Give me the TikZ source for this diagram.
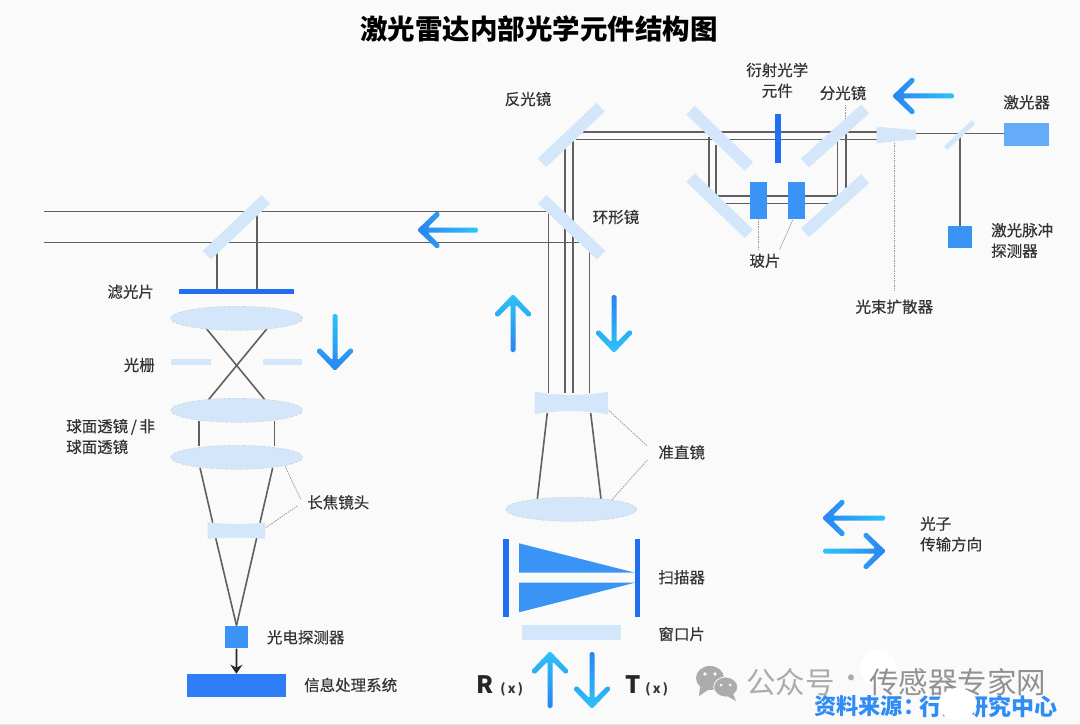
\documentclass[tikz,border=0pt]{standalone}
\usepackage{fontspec}
\setmainfont{Noto Sans CJK SC}
\newfontface\labelface[FakeBold=0.35]{Noto Sans CJK SC}
\usetikzlibrary{positioning, arrows.meta, shapes.geometric, backgrounds}
\definecolor{pagebg}{HTML}{FAFAFA}
\definecolor{glassc}{HTML}{D3E6FA}
\definecolor{bluec}{HTML}{3A94F5}
\definecolor{deepc}{HTML}{1F6FF0}
\definecolor{procc}{HTML}{2F7DF6}
\definecolor{laserc}{HTML}{64ACF7}
\definecolor{beamc}{HTML}{606060}
\definecolor{leadc}{HTML}{9A9A9A}
\definecolor{labelc}{HTML}{333333}
\definecolor{cyanc}{HTML}{2CC4F8}
\definecolor{arrowc}{HTML}{2A84F0}
\definecolor{sourcec}{HTML}{2F8CF5}
\definecolor{markc}{HTML}{ABABAB}
\tikzset{
  mirror/.style={fill=glassc, minimum width=81pt, minimum height=12pt, inner sep=0pt},
  lens/.style={ellipse, fill=glassc, draw=leadc!60, densely dashed, line width=0.3pt, minimum width=132pt, minimum height=24pt, inner sep=0pt},
  block/.style={fill=bluec, inner sep=0pt},
  bar/.style={fill=deepc, inner sep=0pt},
  beam/.style={draw=beamc, line width=1.6pt},
  lead/.style={draw=leadc, line width=0.8pt, dash pattern=on 1.5pt off 1pt},
  label/.style={font=\fontsize{15.5}{20.7}\selectfont\labelface, text=labelc, inner sep=0pt, align=left}
}
\newcommand{\flowarrow}[6]{%
  \begin{scope}[shift={(#1,#2)}, rotate=#3]
    \pgfmathsetmacro{\shadeangle}{#3-90}
    \shade[bottom color=#5, top color=#6, shading angle=\shadeangle, rounded corners=1.6pt]
      (1,0) -- (-19,19) -- (-22.5,15.5) -- (-9.5,2.5) -- (-#4,2.5) -- (-#4,-2.5)
      -- (-9.5,-2.5) -- (-22.5,-15.5) -- (-19,-19) -- cycle;
  \end{scope}}

\begin{document}
\begin{tikzpicture}[x=1pt, y=-1pt]
  \useasboundingbox (0,0) rectangle (1080,725);

  \node[font=\fontsize{27.5}{30}\selectfont\bfseries, text=black, inner sep=0pt] (title) at (539,29) {激光雷达内部光学元件结构图};

  % transmit side
  \node[block, fill=laserc, minimum width=45pt, minimum height=23pt] (laser) at (1026.8,134.8) {};
  \node[block, minimum width=23.7pt, minimum height=22.3pt] (pulse) at (960.2,237.2) {};
  \node[mirror, minimum width=38pt, minimum height=5pt, rotate=43] (split) at (959.7,135) {};
  \fill[glassc] (876.7,126.7) -- (916,130) -- (916,139.3) -- (876.7,143.3) -- cycle;
  \coordinate (expand) at (916,133.4);
  \node[mirror, rotate=-44] (m1) at (719.7,138.3) {};
  \node[mirror, rotate=42] (m2) at (835,136) {};
  \node[mirror, rotate=-44] (m3) at (719.7,205.7) {};
  \node[mirror, rotate=42] (m4) at (835,205.7) {};
  \node[bar, minimum width=6pt, minimum height=48pt] (doe) at (777.7,138.5) {};
  \node[block, minimum width=17.3pt, minimum height=36.7pt] (plate1) at (758.3,200.3) {};
  \node[block, minimum width=17pt, minimum height=36.7pt] (plate2) at (796.8,200.3) {};

  % scan side
  \node[mirror, rotate=43.5] (fold) at (571.3,135) {};
  \node[mirror, rotate=-43.5] (ring) at (571.7,227.3) {};
  \fill[glassc] (534.7,391.7) .. controls (558,396) and (585,396) .. (608,391.7)
    -- (608,414.3) .. controls (585,410) and (558,410) .. (534.7,414.3) -- cycle;
  \node[lens, minimum width=131pt] (colm) at (571.2,509.3) {};
  \node[bar, minimum width=5.7pt, minimum height=78pt] (scanl) at (505.8,577.7) {};
  \node[bar, minimum width=5.7pt, minimum height=78pt] (scanr) at (637.5,577.7) {};
  \fill[bluec] (519,543.3) -- (519,572.7) -- (635,572.7) -- cycle;
  \fill[bluec] (519,582.7) -- (519,612.3) -- (635,582.7) -- cycle;
  \node[fill=glassc, minimum width=99pt, minimum height=15pt, inner sep=0pt] (window) at (571.2,632.5) {};

  % receive side
  \node[mirror, rotate=43.5] (pick) at (236.3,227.3) {};
  \node[bar, minimum width=115pt, minimum height=5pt] (filter) at (236.5,291.2) {};
  \node[lens] (l1) at (236.7,318.3) {};
  \node[fill=glassc, minimum width=40pt, minimum height=6pt, inner sep=0pt] (gl) at (190.7,362.3) {};
  \node[fill=glassc, minimum width=39pt, minimum height=6pt, inner sep=0pt] (gr) at (282.8,362.3) {};
  \node[lens] (l2) at (236.7,410.3) {};
  \node[lens] (l3) at (236.7,457.3) {};
  \fill[glassc] (207.7,522.3) .. controls (225,524.5) and (248,524.5) .. (265,522.3)
    -- (265,539) .. controls (248,537) and (225,537) .. (207.7,539) -- cycle;
  \node[block, minimum width=23.6pt, minimum height=22.6pt] (pd) at (236.5,637) {};
  \node[fill=procc, inner sep=0pt, minimum width=98.7pt, minimum height=22.7pt] (proc) at (236.4,685.3) {};
  \draw[-{Stealth[length=9pt,width=12pt]}, line width=1.8pt, draw=black!85] (pd.south) -- (proc.north);

  % beam end points
  \coordinate (a1) at (583,131.7); \coordinate (a2) at (576,139.3);
  \coordinate (a3) at (877,131.7); \coordinate (a4) at (877,139.3);
  \coordinate (a5) at (709,137); \coordinate (a6) at (709,188.3);
  \coordinate (a7) at (716,145); \coordinate (a8) at (716,195.7);
  \coordinate (a9) at (837.3,195.7); \coordinate (a10) at (837.3,139.3);
  \coordinate (a11) at (845.7,131.7); \coordinate (a12) at (845.7,188.3);
  \coordinate (a13) at (723,203.3); \coordinate (a14) at (830,203.3);
  \coordinate (b1) at (565,148); \coordinate (b2) at (565,393);
  \coordinate (b3) at (573,139.3); \coordinate (b4) at (573,393);
  \coordinate (b5) at (548.3,211.3); \coordinate (b6) at (548.3,393);
  \coordinate (b7) at (589.3,251.7); \coordinate (b8) at (589.3,393);
  \coordinate (b9) at (44,211.3); \coordinate (b10) at (44,242.3);
  \coordinate (b11) at (580,242.3);
  \coordinate (b12) at (547.3,413); \coordinate (b13) at (537.3,499);
  \coordinate (b14) at (590.7,413); \coordinate (b15) at (601,499);
  \coordinate (c1) at (217,251.7); \coordinate (c2) at (217,288.7);
  \coordinate (c3) at (257,215); \coordinate (c4) at (257,288.7);
  \coordinate (c5) at (206.7,329); \coordinate (c6) at (265,400);
  \coordinate (c7) at (266.7,329); \coordinate (c8) at (208.3,400);
  \coordinate (c9) at (199,421); \coordinate (c10) at (199,446);
  \coordinate (c11) at (274.3,421); \coordinate (c12) at (274.3,446);
  \coordinate (c13) at (200,467.7); \coordinate (c14) at (212.7,522.7);
  \coordinate (c15) at (272.7,467.7); \coordinate (c16) at (260,522.7);
  \coordinate (c17) at (215.7,538); \coordinate (c18) at (256.7,538);

  \begin{scope}[on background layer]
    \fill[pagebg] (0,0) rectangle (1080,725);
    \draw[draw=black!10, line width=0.6pt] (0,724.5) -- (1080,724.5);
    \draw[beam] (a1) -- (a3);
    \draw[beam] (a2) -- (a4);
    \draw[beam] (a5) -- (a6);
    \draw[beam] (a7) -- (a8) -- (a9) -- (a10);
    \draw[beam] (a11) -- (a12);
    \draw[beam] (a13) -- (a14);
    \draw[beam] (expand) -- (expand -| laser.west);
    \draw[beam] (pulse.north |- split.center) -- (pulse.north);
    \draw[beam] (b1) -- (b2);
    \draw[beam] (b3) -- (b4);
    \draw[beam] (b5) -- (b6);
    \draw[beam] (b7) -- (b8);
    \draw[beam] (b9) -- (b5);
    \draw[beam] (b10) -- (b11);
    \draw[beam] (b12) -- (b13);
    \draw[beam] (b14) -- (b15);
    \draw[beam] (c1) -- (c2);
    \draw[beam] (c3) -- (c4);
    \draw[beam] (c5) -- (c6);
    \draw[beam] (c7) -- (c8);
    \draw[beam] (c9) -- (c10);
    \draw[beam] (c11) -- (c12);
    \draw[beam] (c13) -- (c14);
    \draw[beam] (c15) -- (c16);
    \draw[beam] (c17) -- (pd.north);
    \draw[beam] (c18) -- (pd.north);
  \end{scope}

  % labels
  \node[label, align=center] (tdoe) at (777.3,80.3) {衍射光学\\元件};
  \node[label] (tm2) at (843,93) {分光镜};
  \node[label] (tlaser) at (1026.7,102.3) {激光器};
  \node[label, anchor=west] (tpulse) at (991,240.5) {激光脉冲\\探测器};
  \node[label] (tplate) at (765,260.7) {玻片};
  \node[label] (texp) at (894.3,306.7) {光束扩散器};
  \node[label] (tfold) at (528,99) {反光镜};
  \node[label] (tring) at (616,217) {环形镜};
  \node[label] (tfilter) at (130.7,291.7) {滤光片};
  \node[label] (tgrid) at (139.3,365) {光栅};
  \node[label, anchor=west] (tsph) at (66,436.5) {球面透镜\,/\,非\\球面透镜};
  \node[label] (ttele) at (338.3,502.3) {长焦镜头};
  \node[label] (tpd) at (305.7,637.3) {光电探测器};
  \node[label] (tproc) at (350.7,685) {信息处理系统};
  \node[label] (tcolm) at (681.7,452.3) {准直镜};
  \node[label] (tscan) at (681.7,577.3) {扫描器};
  \node[label] (twin) at (681.7,634) {窗口片};
  \node[label, anchor=west] (tdir) at (920,534) {光子\\传输方向};
  \node[font=\fontsize{24}{26}\selectfont\bfseries, inner sep=0pt, text=black!85] (tr) at (485,685) {R};
  \node[font=\fontsize{13}{15}\selectfont\bfseries, inner sep=0pt, text=labelc] (trx) at (511.7,689) {(\,x\,)};
  \node[font=\fontsize{24}{26}\selectfont\bfseries, inner sep=0pt, text=black!85] (tt) at (633.3,685) {T};
  \node[font=\fontsize{13}{15}\selectfont\bfseries, inner sep=0pt, text=labelc] (ttx) at (656.7,689) {(\,x\,)};

  % leaders
  \coordinate (d1) at (845.7,105); \coordinate (d2) at (845.7,118);
  \coordinate (d3) at (894,142.7); \coordinate (d4) at (894,290.7);
  \coordinate (d5) at (758.3,250); \coordinate (d6) at (779.3,250); \coordinate (d7) at (792.7,220);
  \coordinate (d8) at (609,410.7); \coordinate (d9) at (647.3,446);
  \coordinate (d10) at (647.3,460); \coordinate (d11) at (611.7,500);
  \coordinate (d12) at (285,466); \coordinate (d13) at (300.7,499.3);
  \coordinate (d14) at (297.3,506); \coordinate (d15) at (265.7,527.7);
  \draw[lead] (d1) -- (d2);
  \draw[lead] (d3) -- (d4);
  \draw[lead] (plate1.south) -- (d5);
  \draw[lead] (d7) -- (d6);
  \draw[lead] (d8) -- (d9);
  \draw[lead] (d10) -- (d11);
  \draw[lead] (d12) -- (d13);
  \draw[lead] (d14) -- (d15);

  % flow arrows
  \flowarrow{893}{96}{180}{61}{cyanc}{arrowc}
  \flowarrow{418}{230}{180}{60}{cyanc}{arrowc}
  \flowarrow{513}{295}{90}{57}{arrowc}{cyanc}
  \flowarrow{614}{352}{-90}{57}{arrowc}{cyanc}
  \flowarrow{335}{370}{-90}{56}{cyanc}{arrowc}
  \flowarrow{550}{652}{90}{56}{arrowc}{cyanc}
  \flowarrow{592}{708}{-90}{56}{arrowc}{cyanc}
  \flowarrow{823}{518}{180}{62}{cyanc}{arrowc}
  \flowarrow{885}{551}{0}{62}{cyanc}{arrowc}

  % watermark and source
  \fill[white] (878,668) circle (18);
  \fill[markc] (700,687) -- (699,696) -- (708,690) -- cycle;
  \fill[markc] (710,678) ellipse (14 and 12);
  \fill[markc, draw=pagebg, line width=0.8pt] (725.7,687) ellipse (12 and 10);
  \fill[markc] (733,694) -- (736,701) -- (727,696) -- cycle;
  \foreach \ex/\ey in {705/674, 715/674}
    \fill[pagebg] (\ex,\ey) circle (1.8);
  \foreach \ex/\ey in {721/685, 730/685}
    \fill[pagebg] (\ex,\ey) circle (1.5);
  \node[anchor=west, inner sep=0pt, font=\fontsize{29.5}{31}\selectfont, text=markc] (mark) at (746,681.7) {公众号};
  \node[inner sep=0pt, font=\fontsize{28}{30}\selectfont, text=markc] (markdot) at (851,681.7) {·};
  \node[anchor=west, inner sep=0pt, font=\fontsize{29.5}{31}\selectfont, text=markc!85!black] (markb) at (869,681.7) {传感器专家网};
  \node[anchor=west, inner sep=0pt, font=\fontsize{22.2}{24}\selectfont\bfseries, text=sourcec] (source) at (814,706.5) {资料来源：};
  \node[anchor=west, inner sep=0pt, font=\fontsize{23}{24}\selectfont\bfseries, text=sourcec] (sourceb) at (919,706.5) {行业研究中心};
  \fill[white] (957.5,704) ellipse (19 and 16);
\end{tikzpicture}
\end{document}
